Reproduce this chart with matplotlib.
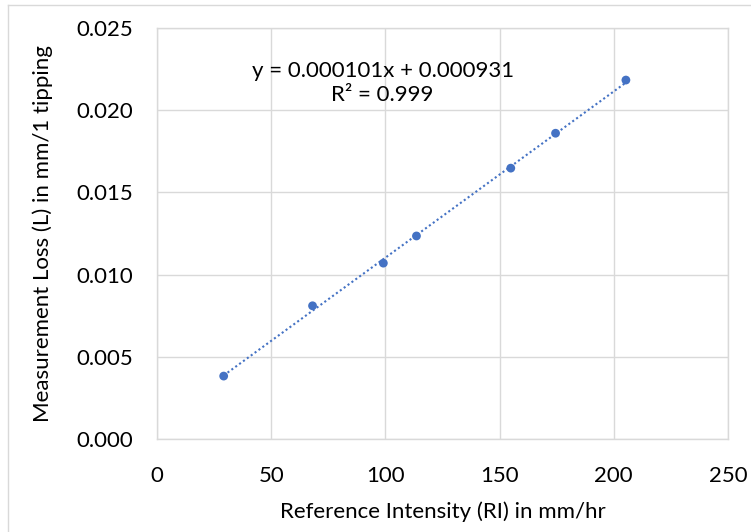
import matplotlib
matplotlib.use("Agg")
import matplotlib.pyplot as plt
from matplotlib.lines import Line2D
import numpy as np

plt.rcParams['font.family'] = ['Lato', 'DejaVu Sans']

# Data
ri = [29.2, 68.1, 99.1, 113.6, 154.9, 174.5, 205.3]
loss = [0.00384, 0.00811, 0.0107, 0.01235, 0.01647, 0.01859, 0.02182]
slope = 0.000101
intercept = 0.000931
x_ticks = [0, 50, 100, 150, 200, 250]
y_ticks = [0.000, 0.005, 0.010, 0.015, 0.020, 0.025]

W, H = 751, 532
fig = plt.figure(figsize=(W / 100, H / 100), dpi=100)
ax = fig.add_axes([157 / W, 1 - 439.3 / H, (728 - 157) / W, (439.3 - 27.7) / H])

color = '#4472C4'
grid_c = '#D9D9D9'
fs = 16

xs = np.array([min(ri), max(ri)])
ax.plot(xs, slope * xs + intercept, linestyle=(0, (1, 1.3)), color=color, lw=1.5, zorder=2)
ax.scatter(ri, loss, s=40, color=color, zorder=3, edgecolors='none')

ax.set_xlim(0, 250)
ax.set_ylim(0, 0.025)
ax.set_xticks(x_ticks)
ax.set_yticks(y_ticks)
ax.set_xticklabels([str(v) for v in x_ticks])
ax.set_yticklabels([f"{v:.3f}" for v in y_ticks])
ax.grid(True, color=grid_c, lw=1)
ax.set_axisbelow(True)
for s in ax.spines.values():
    s.set_color(grid_c)
    s.set_linewidth(1)
ax.tick_params(axis='both', length=0, labelsize=fs, colors='black')
ax.tick_params(axis='y', pad=17)
ax.tick_params(axis='x', pad=19)

ax.set_xlabel("Reference Intensity (RI) in mm/hr", fontsize=fs, labelpad=11)
ax.set_ylabel("Measurement Loss (L) in mm/1 tipping", fontsize=fs, labelpad=17)

ax.text(98.8, 0.02164, "y = 0.000101x + 0.000931\nR² = 0.999", ha='center', va='center',
        fontsize=fs, linespacing=1.2)

# chart-area outline (top and left edges visible in reference)
fig.add_artist(Line2D([8 / W, 8 / W], [0, 1 - 5 / H], transform=fig.transFigure, color=grid_c, lw=1))
fig.add_artist(Line2D([8 / W, 1], [1 - 5 / H, 1 - 5 / H], transform=fig.transFigure, color=grid_c, lw=1))

fig.savefig("out.png", dpi=100, facecolor='white')
